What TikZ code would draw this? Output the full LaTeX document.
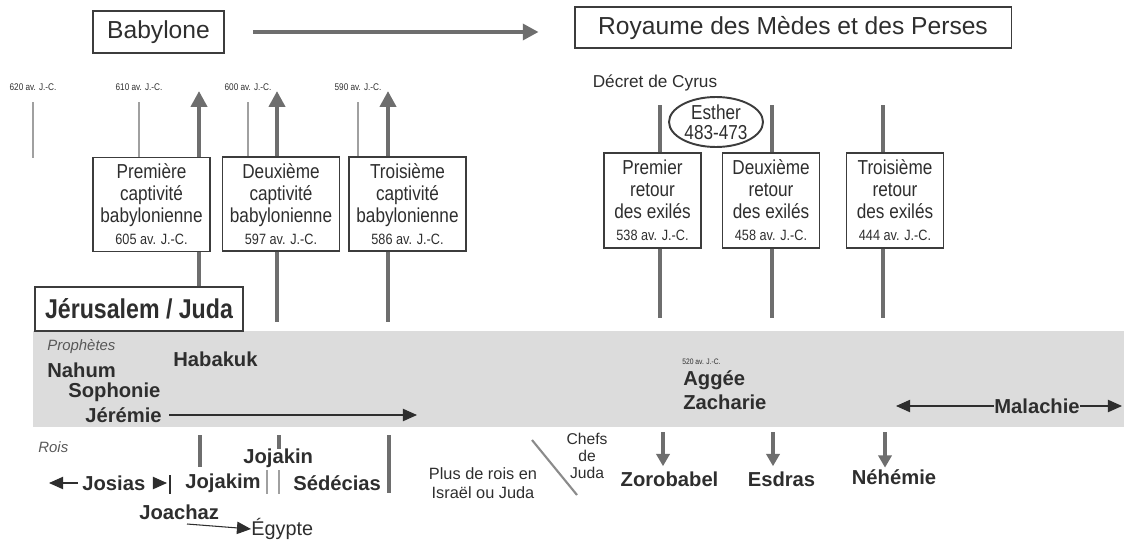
\documentclass[tikz,border=0pt]{standalone}
\usepackage{fontspec}
\setmainfont{Liberation Sans}
\newfontfamily\etroit{Liberation Sans}[FakeStretch=0.85]
\usetikzlibrary{arrows.meta,shapes.geometric}
\definecolor{encre}{HTML}{2E2E2E}
\definecolor{bordure}{HTML}{3C3C3C}
\definecolor{gris}{HTML}{6E6E6E}
\definecolor{clair}{HTML}{A0A0A0}
\definecolor{bande}{HTML}{DCDCDC}
\tikzset{
  boite/.style={draw=bordure, line width=1.1pt, inner sep=0pt, text=encre, align=center},
  titre/.style={boite, font=\fontsize{14}{16}\selectfont},
  captif/.style={boite, minimum width=2.34cm, minimum height=1.88cm,
    font=\etroit\fontsize{11.5}{12.5}\selectfont},
  exil/.style={boite, minimum width=1.94cm, minimum height=1.9cm,
    font=\etroit\fontsize{11.5}{12.5}\selectfont},
  date/.style={inner sep=0pt, text=encre, font=\etroit\fontsize{5.5}{6}\selectfont},
  nom/.style={inner sep=0pt, anchor=west, text=encre, font=\bfseries\fontsize{11.5}{12}\selectfont},
  petit/.style={inner sep=0pt, text=encre, align=center, font=\fontsize{9.3}{10.8}\selectfont},
  rubrique/.style={inner sep=0pt, anchor=west, text=encre!80, font=\itshape\fontsize{8.5}{9}\selectfont},
  fleche/.style={draw=gris, line width=2.3pt, -{Triangle[length=9pt,width=9pt]}},
  flechebas/.style={draw=gris, line width=1.8pt, -{Triangle[length=7pt,width=7.5pt]}},
  trait/.style={draw=gris, line width=1.8pt},
  fin/.style={draw=clair, line width=0.6pt},
  duree/.style={draw=encre, line width=0.6pt},
  pointe/.style={-{Triangle[length=8pt,width=7pt]}},
}
\begin{document}
\begin{tikzpicture}[x=0.02cm, y=-0.02cm]
\useasboundingbox (0,0) rectangle (1124,554);
\fill[bande] (33,331) rectangle (1124,427);

% empires
\node[titre, minimum width=2.62cm, minimum height=0.84cm] (babylone) at (158.5,32) {Babylone};
\node[titre, minimum width=8.74cm, minimum height=0.82cm] (perses) at (793,27.5) {Royaume des Mèdes et des Perses};
\draw[fleche, line width=2.4pt] ([xshift=0.56cm]babylone.east) -- ([xshift=-0.7cm]perses.west |- babylone.east);

% captivites
\node[captif] (cap1) at (151.5,204.5) {Première\\captivité\\babylonienne\\{\fontsize{8.5}{12.5}\selectfont 605 av. J.-C.}};
\node[captif] (cap2) at (281,204) {Deuxième\\captivité\\babylonienne\\{\fontsize{8.5}{12.5}\selectfont 597 av. J.-C.}};
\node[captif] (cap3) at (407.5,204) {Troisième\\captivité\\babylonienne\\{\fontsize{8.5}{12.5}\selectfont 586 av. J.-C.}};
\node[boite, minimum width=4.16cm, minimum height=0.88cm,
  font=\etroit\bfseries\fontsize{15.5}{17}\selectfont] (juda) at (139,309) {Jérusalem / Juda};

\foreach \x/\an in {33/620,139/610,248/600,358/590}
  \node[date] (d\an) at (\x,87) {\an~av. J.-C.};
\draw[fin] (33,102) -- (33,158);
\draw[fin] (139,102) -- (cap1.north -| 139,0);
\draw[fin] (248,102) -- (cap2.north -| 248,0);
\draw[fin] (358,102) -- (cap3.north -| 358,0);

\foreach \c/\x in {cap1/199,cap2/277,cap3/388}
  \draw[fleche] (\c.north -| \x,0) -- (\x,91);
\draw[trait] (cap1.south -| 199,0) -- (juda.north -| 199,0);
\draw[trait] (cap2.south -| 277,0) -- (277,322);
\draw[trait] (cap3.south -| 388,0) -- (388,322);

% retours
\node[inner sep=0pt, text=encre, font=\fontsize{9.8}{10}\selectfont] (decret) at (655,83) {Décret de Cyrus};
\node[exil] (ret1) at (652.5,200.5) {Premier\\retour\\des exilés\\{\fontsize{8.5}{12.5}\selectfont 538 av. J.-C.}};
\node[exil] (ret2) at (771,200.5) {Deuxième\\retour\\des exilés\\{\fontsize{8.5}{12.5}\selectfont 458 av. J.-C.}};
\node[exil] (ret3) at (895,200.5) {Troisième\\retour\\des exilés\\{\fontsize{8.5}{12.5}\selectfont 444 av. J.-C.}};
\node[ellipse, draw=bordure, line width=1.1pt, inner sep=0pt, minimum width=1.88cm, minimum height=1cm,
  align=center, text=encre, font=\etroit\fontsize{11.5}{11.5}\selectfont] (esther) at (716,122) {Esther\\483-473};
\foreach \r/\x in {ret1/660,ret2/772,ret3/883} {
  \draw[trait] (\x,105) -- (\r.north -| \x,0);
  \draw[trait] (\r.south -| \x,0) -- (\x,318);
}

% prophetes
\node[rubrique] (proph) at (47,347) {Prophètes};
\node[nom] (nahum) at (47,370) {Nahum};
\node[nom] (habakuk) at (173,359) {Habakuk};
\node[nom] (sophonie) at (68,392) {Sophonie};
\node[nom] (jeremie) at (85,415) {Jérémie};
\draw[duree, pointe] ([xshift=0.14cm]jeremie.east) -- (417,415);
\node[date, anchor=west, font=\etroit\fontsize{4.5}{5}\selectfont] (d520) at (682,362) {520 av. J.-C.};
\node[nom] (aggee) at (683,380) {Aggée};
\node[nom] (zacharie) at (683,402) {Zacharie};
\node[nom, anchor=center] (malachie) at (1037,406) {Malachie};
\draw[duree, pointe, shorten >=0.06cm] (malachie.west) -- (893,406);
\draw[duree, pointe] (malachie.east) -- (1122,406);

% rois
\node[rubrique] (rois) at (38,447) {Rois};
\draw[trait] (200,435) -- (200,467);
\draw[trait] (279,435) -- (279,449);
\draw[trait] (389,435) -- (389,493);
\node[nom] (jojakin) at (243,458) {Jojakin};
\node[nom] (josias) at (82,483) {Josias};
\node[nom] (jojakim) at (185,483) {Jojakim};
\node[nom] (sedecias) at (293,483) {Sédécias};
\draw[duree, pointe, shorten >=0pt] ([xshift=-0.08cm]josias.west) -- (49,483);
\draw[duree, pointe] ([xshift=0.17cm]josias.east) -- (167,483);
\draw[encre, line width=1.5pt] (170,475) -- (170,494);
\draw[fin, line width=1pt] (267,470) -- (267,494);
\draw[fin, line width=1pt] (279,470) -- (279,494);
\node[nom] (joachaz) at (139,512) {Joachaz};
\node[inner sep=0pt, anchor=west, text=encre, font=\fontsize{11.3}{12}\selectfont] (egypte) at (251,529) {Égypte};
\draw[duree, pointe] (187,524) -- (egypte.west);

% chefs
\node[petit] (plusrois) at (483,483) {Plus de rois en\\Israël ou Juda};
\node[petit, font=\fontsize{8.9}{9.6}\selectfont] (chefs) at (587,456) {Chefs\\de\\Juda};
\draw[fin, draw=gris!80, line width=1.2pt] (532,440) -- (577,495);
\node[nom, anchor=center] (zorobabel) at (669.5,479) {Zorobabel};
\node[nom, anchor=center] (esdras) at (781.5,479) {Esdras};
\node[nom, anchor=center] (nehemie) at (894,477) {Néhémie};
\draw[flechebas] (663,432) -- ([yshift=0.1cm]zorobabel.north -| 663,0);
\draw[flechebas] (773,432) -- ([yshift=0.1cm]esdras.north -| 773,0);
\draw[flechebas] (885,432) -- ([yshift=0.03cm]nehemie.north -| 885,0);
\end{tikzpicture}
\end{document}
